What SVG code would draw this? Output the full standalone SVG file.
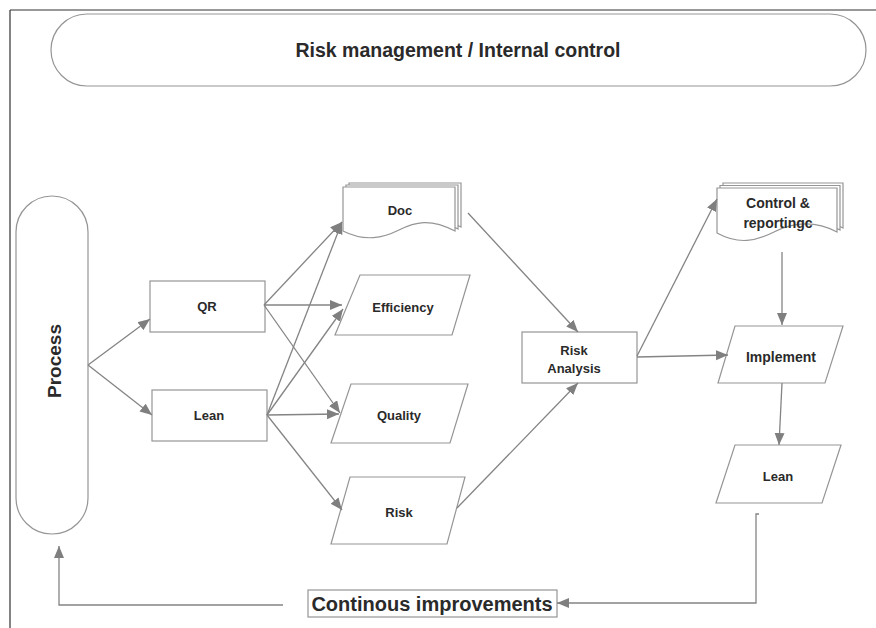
<svg xmlns="http://www.w3.org/2000/svg" width="876" height="628" viewBox="0 0 876 628">
<defs>
<marker id="ah" markerUnits="userSpaceOnUse" markerWidth="13" markerHeight="11" refX="12" refY="5" orient="auto">
<path d="M0,0 L12,5 L0,10 Z" fill="#7f7f7f"/>
</marker>
<style>
.nd{fill:#fff;stroke:#959595;stroke-width:1.2}
.ed{fill:none;stroke:#848484;stroke-width:1.3;marker-end:url(#ah)}
.t{font-family:"Liberation Sans",Arial,sans-serif;font-weight:bold;fill:#2a2a2a;text-anchor:middle}
.s13{font-size:13px}
.s14{font-size:14px}
</style>
</defs>
<rect width="876" height="628" fill="#fff"/>
<g id="frame">
<path d="M10,10 H876 M10,10 V628" stroke="#333" stroke-width="1.2" fill="none"/>
</g>
<g id="risk-management">
<rect class="nd" x="51" y="14" width="815" height="72" rx="36"/>
<text class="t" x="458" y="57" font-size="19.5">Risk management / Internal control</text>
</g>
<g id="process">
<rect class="nd" x="16" y="196" width="72" height="338" rx="36"/>
<text class="t" transform="translate(61,361) rotate(-90)" font-size="19">Process</text>
</g>
<g id="qr">
<rect class="nd" x="150" y="281" width="115" height="51"/>
<text class="t s13" x="207" y="311">QR</text>
</g>
<g id="lean1">
<rect class="nd" x="152" y="390" width="115" height="51"/>
<text class="t s13" x="209" y="420">Lean</text>
</g>
<g id="doc">
<path class="nd" d="M349,183 H461 V227 C436,214 421,218 405,226 C389,234 371,238 349,227 Z"/>
<path class="nd" d="M346,185 H458 V229 C433,216 418,220 402,228 C386,236 368,240 346,229 Z"/>
<path class="nd" d="M343,187 H455 V231 C430,218 415,222 399,230 C383,238 365,242 343,231 Z"/>
<text class="t s13" x="400" y="215">Doc</text>
</g>
<g id="efficiency">
<path class="nd" d="M360,275 L470,275 L452,335 L335,335 Z"/>
<text class="t s13" x="403" y="312">Efficiency</text>
</g>
<g id="quality">
<path class="nd" d="M351,384 L468,384 L450,443 L331,443 Z"/>
<text class="t s13" x="399" y="420">Quality</text>
</g>
<g id="risk">
<path class="nd" d="M350,477 L465,477 L447,544 L331,544 Z"/>
<text class="t s13" x="399" y="517">Risk</text>
</g>
<g id="risk-analysis">
<rect class="nd" x="522" y="332" width="115" height="51"/>
<text class="t s13" x="574" y="355">Risk</text>
<text class="t s13" x="574" y="373">Analysis</text>
</g>
<g id="control">
<path class="nd" d="M723,183 H843 V228 C820,216 800,218 780,228 C762,237 745,241 723,229 Z"/>
<path class="nd" d="M720,185.5 H840 V230 C817,218 797,220 777,230 C759,239 742,243 720,231 Z"/>
<path class="nd" d="M717,188 H837 V232 C814,220 794,222 774,232 C756,241 739,245 717,233 Z"/>
<text class="t s14" x="778" y="208">Control &amp;</text>
<text class="t s14" x="778" y="228">reportingc</text>
</g>
<g id="implement">
<path class="nd" d="M735,326 L843,326 L825,383 L718,383 Z"/>
<text class="t s14" x="781" y="362">Implement</text>
</g>
<g id="lean2">
<path class="nd" d="M735,445 L841,445 L822,503 L716,503 Z"/>
<text class="t s13" x="778" y="481">Lean</text>
</g>
<g id="continuous">
<rect x="308" y="590" width="249" height="27" fill="#fff" stroke="#959595" stroke-width="1.2"/>
<text class="t" x="432" y="611" font-size="20">Continous improvements</text>
</g>
<g id="connectors">
<path class="ed" d="M88,365 L150,319"/>
<path class="ed" d="M88,365 L152,415"/>
<path class="ed" d="M264,305 L342,222"/>
<path class="ed" d="M267,415 L342,222"/>
<path class="ed" d="M264,305 L342,305"/>
<path class="ed" d="M267,415 L343,309"/>
<path class="ed" d="M264,305 L340,413"/>
<path class="ed" d="M267,415 L339,414"/>
<path class="ed" d="M267,415 L342,510"/>
<path class="ed" d="M468,213 L578,332"/>
<path class="ed" d="M457,508 L578,383"/>
<path class="ed" d="M637,356 L717,199"/>
<path class="ed" d="M637,357 L728,355"/>
<path class="ed" d="M782,252 L782,325"/>
<path class="ed" d="M782,383 L779,445"/>
<path class="ed" d="M759,514 L756,514 L756,603 L557,603"/>
<path class="ed" d="M283,605 L59,605 L59,546"/>
</g>
</svg>
